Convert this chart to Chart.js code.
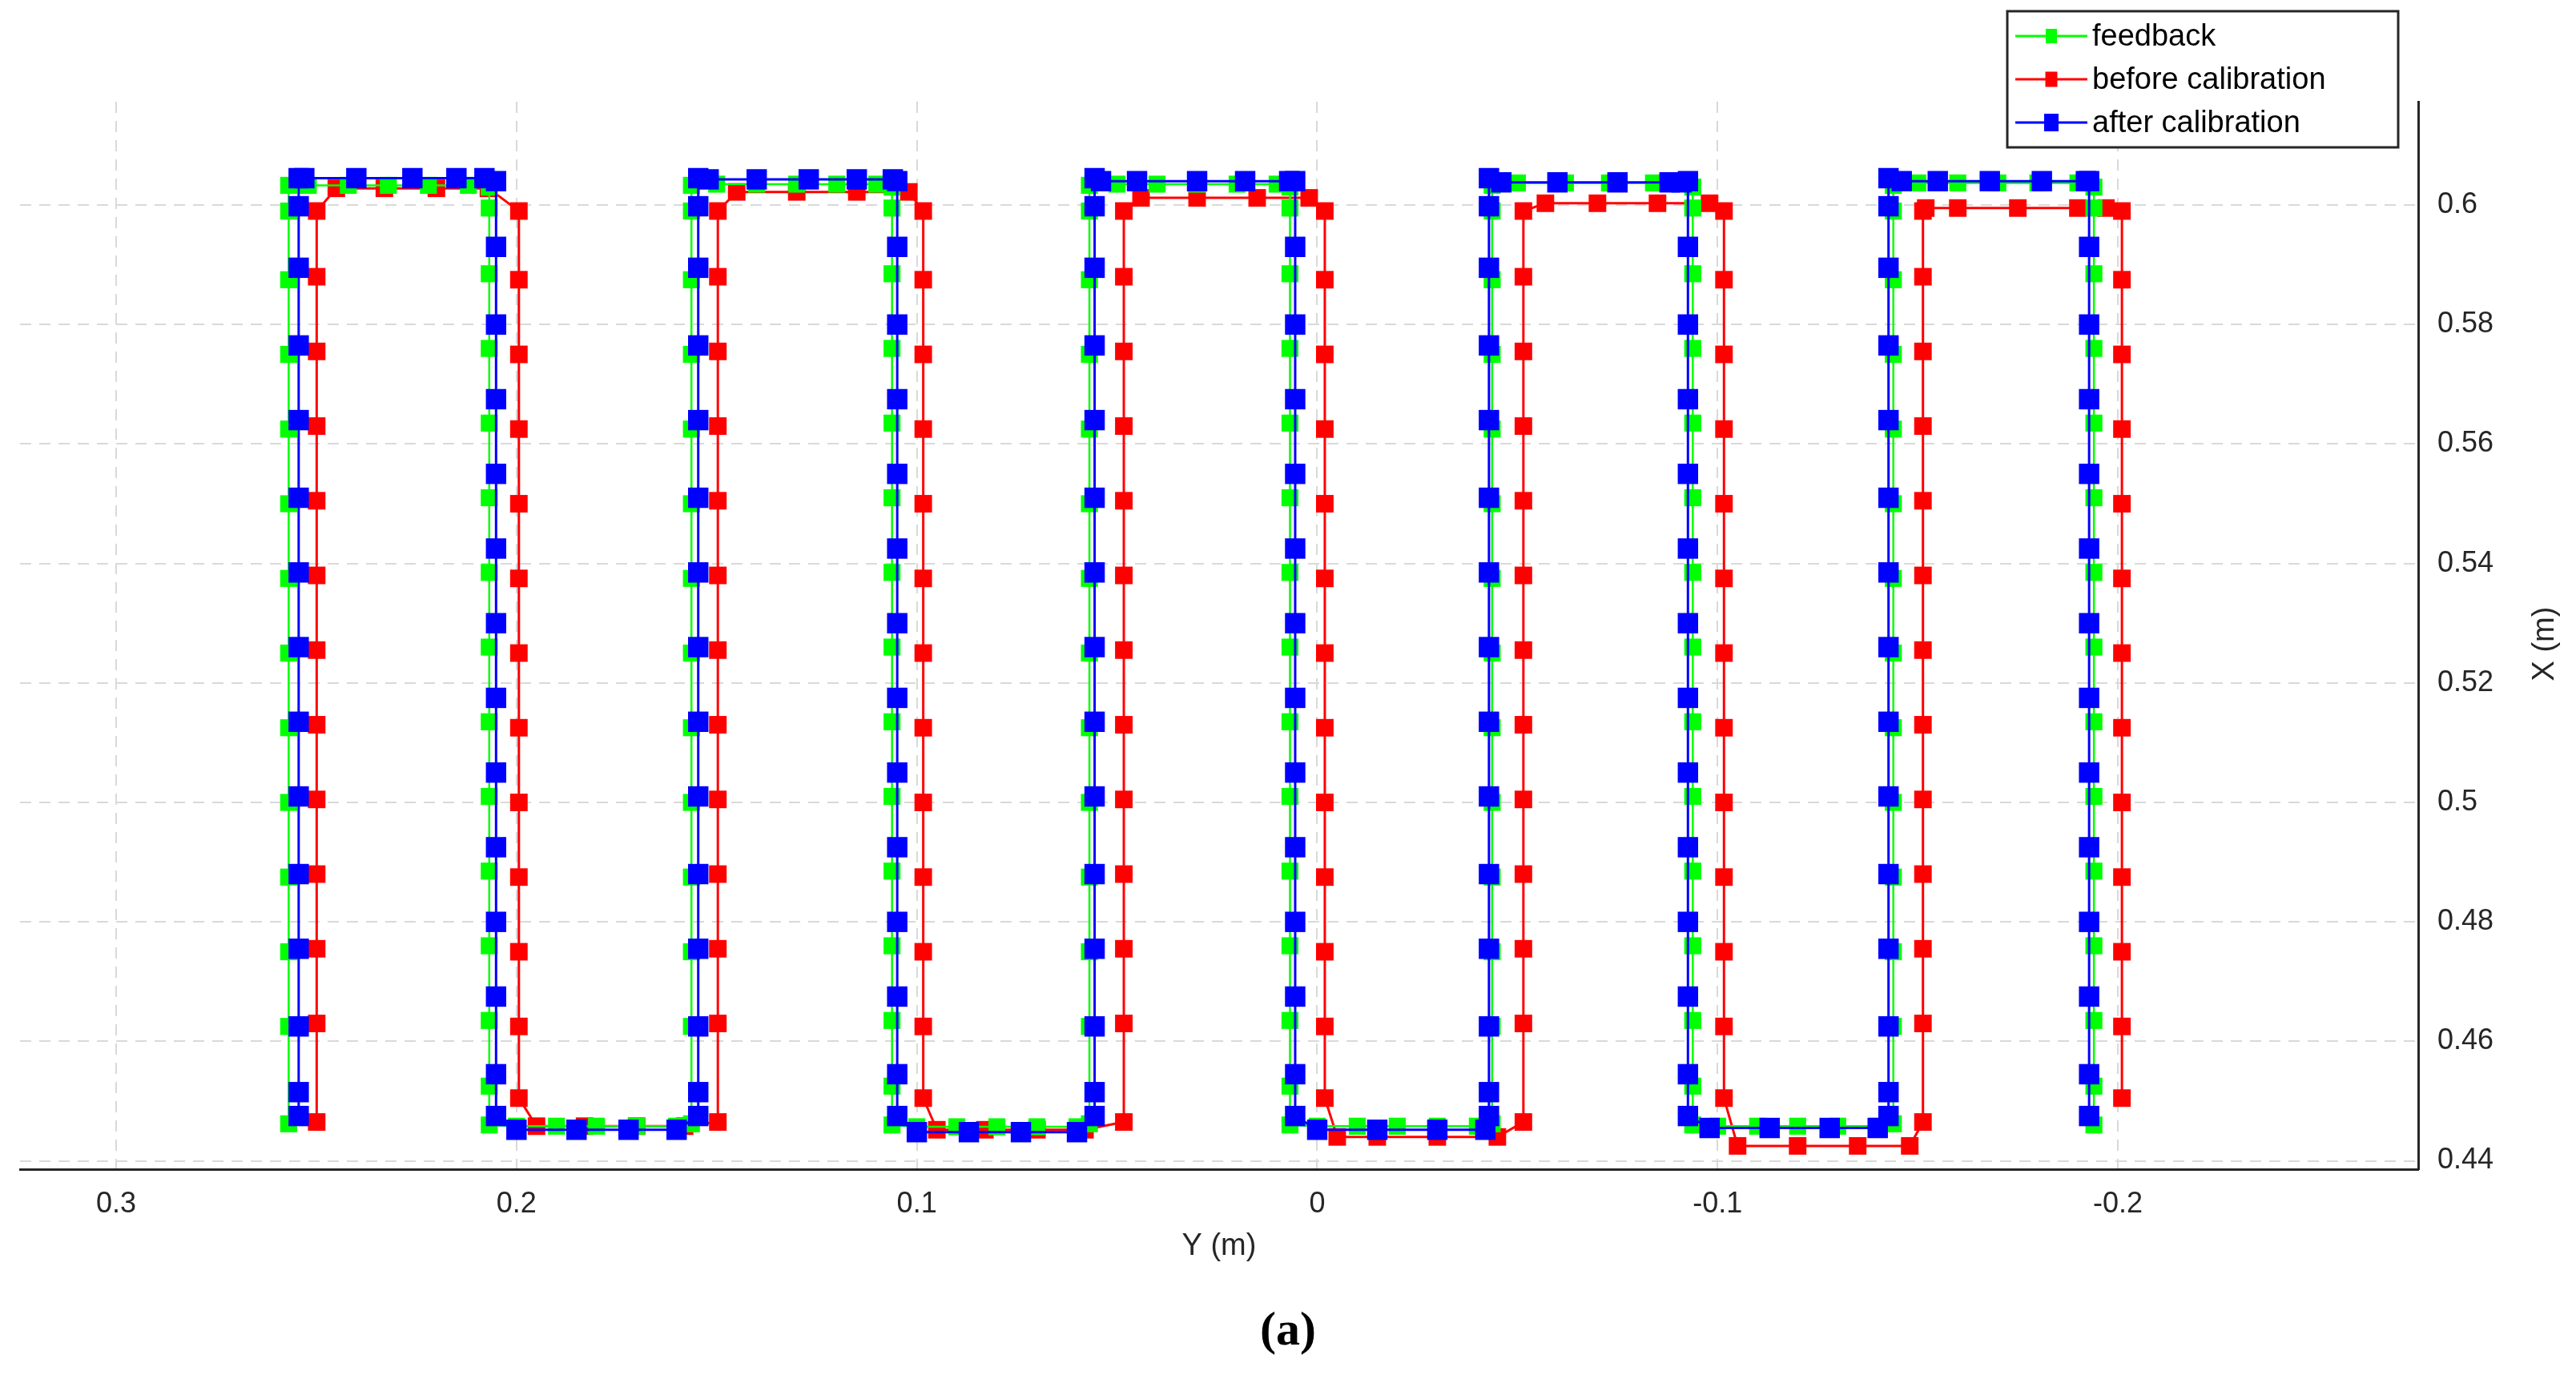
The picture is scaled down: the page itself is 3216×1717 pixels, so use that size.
<!DOCTYPE html>
<html><head><meta charset="utf-8">
<script src="https://cdn.jsdelivr.net/npm/chart.js@4/dist/chart.umd.min.js"></script>
<style>
html,body{margin:0;padding:0;background:#fff;width:3216px;height:1717px;overflow:hidden}
#wrap{position:absolute;left:0;top:0;width:3216px;height:1717px}
#cap{position:absolute;left:0;width:3216px;top:1625px;text-align:center;font:bold 60px "Liberation Serif","DejaVu Serif",serif;color:#000}
</style></head><body>
<div id="wrap"><canvas id="c" width="3216" height="1717"></canvas></div>
<div id="cap">(a)</div>
<script>
// ---- data (Y in m = horizontal, X in m = vertical) ----
const xTickLabels = [0.3, 0.2, 0.1, 0, -0.1, -0.2];
const yTickLabels = [0.44, 0.46, 0.48, 0.5, 0.52, 0.54, 0.56, 0.58, 0.6];

const feedbackCols = [0.2569, 0.2068, 0.1563, 0.1062, 0.0569, 0.0068, -0.0437, -0.0938, -0.1439, -0.1940];
const feedbackUp = [0.4462, 0.4625, 0.4750, 0.4875, 0.5000, 0.5125, 0.5250, 0.5375, 0.5500, 0.5625, 0.5750, 0.5875, 0.5990, 0.6033];
const feedbackDown = [0.6030, 0.5995, 0.5885, 0.5760, 0.5635, 0.5510, 0.5385, 0.5260, 0.5135, 0.5010, 0.4885, 0.4760, 0.4635, 0.4525, 0.4460];
const feedbackTopX = [0.6033, 0.6035, 0.6035, 0.6037, 0.6037];
const feedbackTopRuns = [[0.252, 0.242, 0.232, 0.222, 0.212], [0.150, 0.140, 0.130, 0.120, 0.110], [0.050, 0.040, 0.030, 0.020, 0.010], [-0.050, -0.062, -0.073, -0.084, -0.090], [-0.150, -0.160, -0.170, -0.180, -0.190]];
const feedbackBottomX = [0.4458, 0.4457, 0.4458, 0.4458];
const feedbackBottomRuns = [[0.200, 0.190, 0.180, 0.170, 0.160], [0.100, 0.090, 0.080, 0.070, 0.060], [0.000, -0.010, -0.020, -0.030, -0.040], [-0.100, -0.110, -0.120, -0.130, -0.140]];

const beforeCols = [0.2499, 0.1994, 0.1497, 0.0984, 0.0483, -0.0019, -0.0515, -0.1016, -0.1513, -0.2010];
const beforeUp = [0.4465, 0.4630, 0.4755, 0.4880, 0.5005, 0.5130, 0.5255, 0.5380, 0.5505, 0.5630, 0.5755, 0.5880, 0.5990];
const beforeDown = [0.5990, 0.5875, 0.5750, 0.5625, 0.5500, 0.5375, 0.5250, 0.5125, 0.5000, 0.4875, 0.4750, 0.4625, 0.4505];
const beforeTopX = [0.6028, 0.6022, 0.6012, 0.6003, 0.5995];
const beforeTopRuns = [[0.245, 0.233, 0.220, 0.207], [0.145, 0.130, 0.115, 0.102], [0.044, 0.030, 0.015, 0.002], [-0.057, -0.070, -0.085, -0.098], [-0.152, -0.160, -0.175, -0.190, -0.197]];
const beforeBottomX = [0.4458, 0.4452, 0.4440, 0.4425];
const beforeBottomRuns = [[0.195, 0.183, 0.170, 0.158], [0.095, 0.083, 0.070, 0.058], [-0.005, -0.015, -0.030, -0.045], [-0.105, -0.120, -0.135, -0.148]];

const afterCols = [0.2544, 0.2051, 0.1546, 0.1049, 0.0556, 0.0055, -0.0429, -0.0926, -0.1427, -0.1928];
const afterUp = [0.4475, 0.4515, 0.4625, 0.4755, 0.4880, 0.5010, 0.5135, 0.5260, 0.5385, 0.5510, 0.5640, 0.5765, 0.5895, 0.5998, 0.6045];
const afterDown = [0.6040, 0.5930, 0.5800, 0.5675, 0.5550, 0.5425, 0.5300, 0.5175, 0.5050, 0.4925, 0.4800, 0.4675, 0.4545, 0.4475];
const afterTopX = [0.6045, 0.6043, 0.6040, 0.6038, 0.6040];
const afterTopRuns = [[0.253, 0.240, 0.226, 0.215, 0.208], [0.152, 0.140, 0.127, 0.115, 0.106], [0.054, 0.045, 0.030, 0.018, 0.007], [-0.046, -0.060, -0.075, -0.088, -0.091], [-0.146, -0.155, -0.168, -0.181, -0.192]];
const afterBottomX = [0.4452, 0.4448, 0.4452, 0.4455];
const afterBottomRuns = [[0.200, 0.185, 0.172, 0.160], [0.100, 0.087, 0.074, 0.060], [0.000, -0.015, -0.030, -0.042], [-0.098, -0.113, -0.128, -0.140]];

// ---- build paths from the arrays ----
function buildPath(cols, up, down, topX, topRuns, botX, botRuns) {
  const pts = [];
  for (let r = 0; r < topRuns.length; r++) {
    up.forEach(v => pts.push({x: cols[2*r], y: v}));
    topRuns[r].forEach(v => pts.push({x: v, y: topX[r]}));
    down.forEach(v => pts.push({x: cols[2*r+1], y: v}));
    if (r < botRuns.length) botRuns[r].forEach(v => pts.push({x: v, y: botX[r]}));
  }
  return pts;
}
const feedback = buildPath(feedbackCols, feedbackUp, feedbackDown, feedbackTopX, feedbackTopRuns, feedbackBottomX, feedbackBottomRuns);
const before = buildPath(beforeCols, beforeUp, beforeDown, beforeTopX, beforeTopRuns, beforeBottomX, beforeBottomRuns);
const after = buildPath(afterCols, afterUp, afterDown, afterTopX, afterTopRuns, afterBottomX, afterBottomRuns);

const FONT = '"Liberation Sans", Arial, sans-serif';
const grid = {color: '#d9d9d9', lineWidth: 2, tickLength: 0, drawTicks: false};

const decorPlugin = {
  id: 'decor',
  afterDraw(chart) {
    const ctx = chart.ctx;
    ctx.save();
    // axis titles
    ctx.fillStyle = '#262626'; ctx.font = '38px ' + FONT;
    ctx.textAlign = 'center'; ctx.textBaseline = 'middle';
    ctx.fillText('Y (m)', 1522, 1557);
    ctx.translate(3178, 804); ctx.rotate(-Math.PI / 2);
    ctx.fillText('X (m)', 0, 0);
    ctx.setTransform(1, 0, 0, 1, 0, 0);
    // legend box
    const x0 = 2506, y0 = 14, w = 488, h = 170;
    ctx.fillStyle = '#fff'; ctx.fillRect(x0, y0, w, h);
    ctx.strokeStyle = '#262626'; ctx.lineWidth = 3; ctx.strokeRect(x0, y0, w, h);
    const items = [['feedback', '#00ff00', 14], ['before calibration', '#ff0000', 15], ['after calibration', '#0000ff', 18]];
    ctx.textAlign = 'left';
    items.forEach((it, i) => {
      const cy = y0 + 31 + i * 54;
      ctx.strokeStyle = it[1]; ctx.lineWidth = 3;
      ctx.beginPath(); ctx.moveTo(x0 + 10, cy); ctx.lineTo(x0 + 100, cy); ctx.stroke();
      ctx.fillStyle = it[1]; const s = it[2];
      ctx.fillRect(x0 + 55 - s/2, cy - s/2 - 2, s, s + 4);
      ctx.fillStyle = '#000'; ctx.font = '38px ' + FONT; ctx.textBaseline = 'middle';
      ctx.fillText(it[0], x0 + 106, cy + 2);
    });
    ctx.restore();
  }
};

new Chart(document.getElementById('c'), {
  type: 'scatter',
  data: {datasets: [
    {label: 'feedback', data: feedback, showLine: true, borderColor: '#00ff00', backgroundColor: '#00ff00', borderWidth: 2.5, pointStyle: 'rect', pointRadius: 15, pointBorderWidth: 0, order: 1},
    {label: 'before calibration', data: before, showLine: true, borderColor: '#ff0000', backgroundColor: '#ff0000', borderWidth: 3, pointStyle: 'rect', pointRadius: 15.5, pointBorderWidth: 0, order: 2},
    {label: 'after calibration', data: after, showLine: true, borderColor: '#0000ff', backgroundColor: '#0000ff', borderWidth: 3, pointStyle: 'rect', pointRadius: 18, pointBorderWidth: 0, order: 0}
  ]},
  options: {
    responsive: false, animation: false, devicePixelRatio: 1,
    layout: {padding: {left: 25, top: 127, right: 0, bottom: 0}},
    plugins: {legend: {display: false}, tooltip: {enabled: false}},
    scales: {
      x: {
        type: 'linear', reverse: true, min: -0.275, max: 0.324,
        afterBuildTicks: s => { s.ticks = xTickLabels.map(v => ({value: v})); },
        afterFit: s => { s.height = 257; },
        grid: grid,
        border: {display: true, color: '#262626', width: 3, dash: [14, 10]},
        ticks: {color: '#262626', font: {family: FONT, size: 36}, padding: 22, callback: v => String(v)},
        title: {display: false}
      },
      y: {
        type: 'linear', position: 'right', min: 0.4386, max: 0.6173,
        afterBuildTicks: s => { s.ticks = yTickLabels.map(v => ({value: v})); },
        afterFit: s => { s.width = 197; },
        grid: grid,
        border: {display: true, color: '#262626', width: 3, dash: [14, 10]},
        ticks: {color: '#262626', font: {family: FONT, size: 36}, padding: 24, callback: v => String(v)},
        title: {display: false}
      }
    }
  },
  plugins: [decorPlugin]
});
</script>
</body></html>
